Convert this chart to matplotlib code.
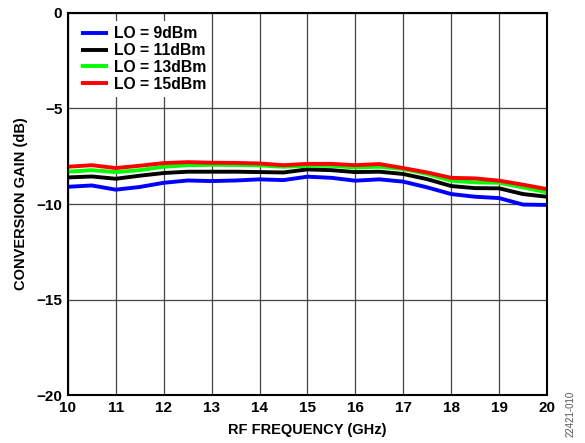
import numpy as np
import matplotlib
matplotlib.use("Agg")
from matplotlib import pyplot as plt

plt.rcParams['font.family'] = ['Liberation Sans', 'DejaVu Sans']
plt.rcParams['font.weight'] = 'bold'

# RF frequency points (GHz) and conversion gain (dB)
freq = [10, 10.5, 11, 11.5, 12, 12.5, 13, 13.5, 14, 14.5, 15, 15.5, 16, 16.5, 17, 17.5, 18, 18.5, 19, 19.5, 20]
lo9 = [-9.10, -9.03, -9.25, -9.11, -8.89, -8.77, -8.80, -8.77, -8.71, -8.75, -8.57, -8.63,
       -8.78, -8.71, -8.83, -9.13, -9.48, -9.62, -9.69, -10.03, -10.05]
lo11 = [-8.61, -8.56, -8.68, -8.52, -8.38, -8.31, -8.31, -8.31, -8.33, -8.35, -8.19, -8.23,
        -8.33, -8.31, -8.43, -8.70, -9.06, -9.17, -9.18, -9.48, -9.62]
lo13 = [-8.31, -8.23, -8.33, -8.23, -8.05, -7.97, -7.95, -7.96, -7.98, -8.05, -8.00, -8.00,
        -8.09, -8.05, -8.17, -8.43, -8.78, -8.87, -8.89, -9.13, -9.39]
lo15 = [-8.05, -7.97, -8.12, -8.00, -7.86, -7.81, -7.84, -7.85, -7.88, -7.97, -7.90, -7.90,
        -7.97, -7.91, -8.12, -8.35, -8.63, -8.66, -8.78, -8.99, -9.22]

series = [(lo9, 'LO = 9dBm', '#0000ff'),
          (lo11, 'LO = 11dBm', '#000000'),
          (lo13, 'LO = 13dBm', '#00ff00'),
          (lo15, 'LO = 15dBm', '#ff0000')]

fig = plt.figure(figsize=(5.85, 4.43), dpi=100)
ax = fig.add_axes([0.116, 0.108, 0.819, 0.863])

for vals, lab, col in series:
    ax.plot(freq, vals, color=col, lw=2.8, label=lab, solid_capstyle='butt')

ax.set_xlim(10, 20)
ax.set_ylim(-20, 0)
ax.set_xticks(range(10, 21))
ax.set_yticks([-20, -15, -10, -5, 0])
ax.grid(True, color='#444444', lw=0.9)
ax.tick_params(length=0, labelsize=11, pad=4)
for s in ax.spines.values():
    s.set_linewidth(1.5)
ax.set_xlabel('RF FREQUENCY (GHz)', fontsize=10.5, fontweight='bold', labelpad=6)
ax.set_ylabel('CONVERSION GAIN (dB)', fontsize=10.5, fontweight='bold', labelpad=6)

leg = ax.legend(loc='upper left', frameon=True, fontsize=11.3, handlelength=1.7,
                handletextpad=0.4, labelspacing=0.12, borderaxespad=0.55,
                borderpad=0.3, fancybox=False)
leg.get_frame().set_edgecolor('none')
leg.get_frame().set_facecolor('white')
leg.get_frame().set_alpha(1)

fig.text(0.975, 0.065, '22421-010', rotation=90, fontsize=7, color='#555555',
         fontweight='normal', ha='center', va='center')

fig.savefig('out.png', dpi=100)
